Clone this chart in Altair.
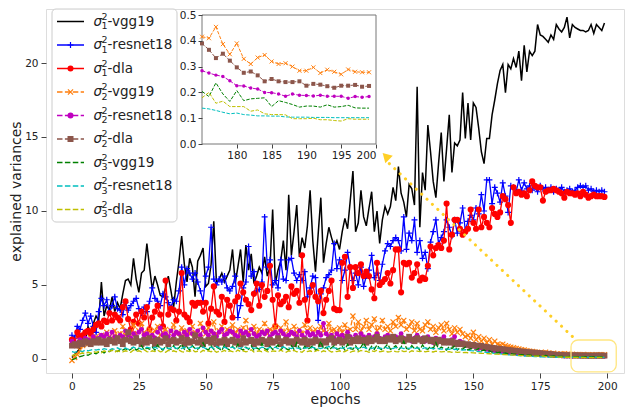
import altair as alt
import pandas as pd

epochs = list(range(200))

s1_vgg19 = [
    0.1, 0.3, 0.5, 0.7, 1.4, 1.2, 2.2, 1.8, 2.4, 2.9,
    2.6, 5.2, 2.9, 3.6, 3.3, 4.2, 3.2, 3.8, 3.4, 4.4,
    5.3, 5.4, 5.0, 6.8, 5.4, 4.5, 5.8, 6.0, 7.8, 6.2,
    4.7, 5.6, 5.0, 4.3, 4.2, 4.8, 5.6, 4.6, 3.5, 5.2,
    6.6, 8.3, 6.4, 5.2, 6.8, 6.2, 4.2, 6.6, 7.0, 7.5,
    4.9, 5.1, 6.4, 9.3, 5.1, 5.4, 5.8, 5.2, 5.6, 6.0,
    7.4, 5.1, 6.2, 7.4, 5.2, 7.7, 6.0, 7.1, 5.1, 5.6,
    6.2, 5.8, 6.9, 5.6, 6.2, 10.1, 5.1, 6.0, 6.6, 8.0,
    6.0, 11.1, 7.0, 8.6, 10.4, 6.9, 8.2, 7.5, 9.0, 11.4,
    8.0, 5.9, 8.4, 10.9, 6.5, 7.8, 8.9, 8.2, 7.6, 8.0,
    7.4, 8.6, 9.5, 8.8, 10.7, 12.7, 8.6, 9.2, 11.4, 9.6,
    9.0, 10.2, 11.3, 8.6, 10.0, 7.8, 9.4, 10.3, 9.8, 10.3,
    11.6, 10.7, 13.0, 11.2, 10.6, 9.6, 11.8, 11.5, 10.4, 18.4,
    8.9, 12.6, 11.4, 15.8, 14.0, 12.0, 10.9, 13.2, 15.3, 12.0,
    14.2, 16.5, 12.6, 14.6, 14.4, 14.8, 18.0, 14.9, 17.3, 14.8,
    17.3, 17.0, 15.6, 14.0, 13.2, 14.9, 14.9, 16.5, 17.5, 18.6,
    19.5, 19.9, 18.0, 19.9, 19.6, 20.3, 19.7, 20.8, 18.8, 21.2,
    19.4, 20.8, 20.5, 20.8, 22.6, 21.9, 21.8, 21.6, 21.4, 21.9,
    21.6, 22.6, 22.3, 22.1, 22.4, 23.1, 21.7, 22.6, 22.4, 22.3,
    22.2, 22.2, 22.1, 22.2, 22.6, 22.0, 22.6, 22.4, 22.2, 22.7,
]

s1_resnet18 = [
    1.6, 1.4, 2.2, 2.0, 2.6, 3.1, 2.4, 2.9, 2.2, 1.8,
    3.2, 4.1, 3.6, 4.0, 3.1, 3.6, 4.2, 3.4, 3.3, 3.0,
    3.8, 3.3, 3.6, 3.9, 4.1, 3.4, 3.1, 3.5, 3.2, 3.9,
    4.8, 4.1, 3.9, 3.6, 4.4, 4.2, 3.8, 3.5, 4.0, 3.9,
    4.6, 6.2, 5.0, 6.1, 5.8, 5.4, 5.8, 5.2, 4.6, 3.9,
    5.6, 6.2, 8.9, 5.4, 5.0, 5.4, 5.2, 5.6, 4.8, 4.6,
    4.9, 5.6, 2.8, 3.6, 4.8, 5.2, 7.6, 5.6, 5.9, 4.6,
    4.7, 5.2, 9.6, 6.2, 6.7, 5.0, 5.3, 4.8, 6.7, 5.4,
    5.3, 6.7, 6.8, 5.8, 5.3, 5.7, 5.3, 5.9, 4.2, 4.8,
    5.6, 5.5, 2.6, 4.4, 4.8, 5.5, 5.7, 6.0, 7.8, 6.1,
    6.7, 5.3, 6.0, 7.2, 6.2, 5.3, 5.8, 5.0, 6.2, 4.9,
    5.6, 6.0, 7.0, 5.5, 5.8, 5.3, 6.4, 7.3, 7.8, 7.6,
    8.0, 8.2, 8.0, 7.3, 9.6, 7.4, 8.5, 8.0, 9.4, 7.2,
    8.0, 6.8, 7.2, 6.1, 7.9, 8.6, 9.4, 7.8, 8.2, 8.6,
    9.4, 8.9, 8.3, 9.4, 8.5, 9.2, 10.2, 8.7, 9.3, 9.7,
    9.4, 10.2, 9.8, 11.1, 10.0, 12.1, 12.1, 10.5, 11.6, 11.2,
    10.6, 11.9, 11.0, 9.9, 11.7, 11.6, 11.3, 12.1, 11.4, 11.9,
    11.5, 11.7, 11.4, 11.6, 11.3, 11.7, 11.5, 11.6, 11.4, 11.6,
    11.3, 11.5, 11.4, 11.6, 11.3, 11.4, 11.5, 11.3, 11.4, 11.6,
    11.7, 11.6, 11.7, 11.4, 11.5, 11.3, 11.4, 11.3, 11.4, 11.3,
]

s1_dla = [
    1.3, 1.0, 1.8, 1.5, 1.6, 1.8, 1.9, 1.7, 2.0, 2.3,
    2.4, 2.2, 2.6, 2.5, 3.1, 2.6, 3.0, 2.8, 2.6, 3.5,
    3.9, 2.7, 2.0, 2.5, 3.0, 2.4, 3.2, 2.8, 3.5, 2.0,
    2.8, 3.2, 3.6, 3.0, 2.2, 5.3, 3.0, 3.4, 3.3, 2.6,
    3.2, 5.8, 3.0, 2.8, 2.5, 3.8, 3.6, 3.8, 3.8, 3.2,
    3.8, 2.4, 3.4, 4.9, 3.2, 3.0, 4.2, 2.5, 4.0, 3.6,
    2.8, 3.9, 4.2, 5.1, 4.5, 4.0, 3.7, 3.3, 4.4, 5.1,
    3.6, 5.0, 4.2, 4.6, 6.3, 4.0, 2.2, 4.3, 3.7, 3.9,
    4.2, 3.5, 4.9, 4.4, 4.6, 3.8, 7.0, 4.0, 2.6, 4.5,
    5.0, 4.2, 3.9, 4.6, 3.1, 4.0, 4.6, 5.3, 3.4, 3.3,
    3.3, 6.5, 6.9, 4.2, 6.2, 4.8, 6.2, 5.8, 6.4, 5.6,
    5.9, 5.6, 4.7, 4.1, 6.5, 5.0, 5.2, 5.4, 5.8, 5.1,
    6.0, 7.4, 7.4, 4.5, 6.5, 6.4, 6.5, 5.5, 5.8, 6.4,
    5.3, 5.5, 5.4, 6.3, 7.6, 7.0, 7.5, 7.7, 7.5, 8.0,
    10.5, 7.4, 8.4, 9.4, 9.4, 8.8, 8.4, 8.6, 8.8, 10.1,
    9.2, 8.8, 10.1, 8.9, 9.6, 9.2, 8.9, 10.2, 9.8, 9.6,
    9.9, 11.0, 10.8, 10.4, 9.2, 11.6, 11.2, 11.3, 11.1, 11.2,
    11.0, 11.4, 12.0, 11.7, 11.6, 11.6, 10.7, 11.3, 11.4, 11.4,
    11.5, 11.4, 11.3, 11.2, 10.9, 11.3, 11.2, 11.2, 11.1, 11.2,
    11.0, 11.3, 11.1, 10.9, 11.0, 11.1, 11.0, 11.0, 11.0, 10.95,
]

s2_vgg19 = [
    -0.1, 0.1, 0.3, 0.6, 0.9, 1.1, 1.0, 1.4, 1.2, 1.5,
    1.3, 1.6, 1.4, 1.8, 1.5, 1.3, 1.9, 1.5, 1.7, 2.2,
    1.6, 1.8, 1.5, 2.3, 1.7, 1.9, 2.4, 1.8, 1.6, 2.0,
    1.7, 1.9, 2.2, 1.6, 1.8, 2.0, 1.5, 1.9, 2.3, 1.7,
    1.8, 2.1, 1.6, 1.9, 1.7, 2.2, 1.8, 1.6, 2.4, 1.9,
    1.7, 2.1, 1.8, 2.5, 1.7, 1.9, 2.2, 1.6, 2.0, 1.8,
    2.3, 1.7, 2.0, 1.6, 2.1, 2.6, 1.8, 1.9, 2.2, 1.7,
    2.0, 1.8, 2.4, 1.7, 2.0, 1.9, 2.2, 1.6, 2.1, 1.8,
    2.5, 1.9, 1.7, 2.2, 1.8, 2.0, 1.7, 2.3, 1.9, 2.1,
    1.8, 2.0, 1.7, 2.2, 1.9, 1.8, 2.4, 1.9, 2.0, 1.7,
    2.1, 1.8, 2.3, 1.9, 2.0, 2.9, 2.0, 2.5, 1.9, 2.2,
    2.6, 2.0, 2.3, 2.7, 1.9, 2.1, 2.6, 2.0, 2.2, 1.9,
    2.5, 2.2, 2.8, 2.3, 2.6, 2.0, 2.2, 2.5, 1.9, 2.4,
    2.0, 1.9, 2.3, 2.5, 2.0, 2.2, 1.8, 2.1, 2.3, 1.9,
    2.4, 2.0, 1.7, 2.1, 1.8, 2.0, 1.7, 1.5, 1.6, 1.4,
    1.8, 1.3, 1.5, 1.2, 1.4, 1.1, 1.3, 1.0, 1.2, 1.0,
    0.95, 1.0, 0.9, 0.85, 0.8, 0.75, 0.7, 0.68, 0.62, 0.6,
    0.56, 0.52, 0.5, 0.47, 0.45, 0.416, 0.41, 0.454, 0.387, 0.348,
    0.39, 0.33, 0.31, 0.335, 0.345, 0.32, 0.31, 0.313, 0.30, 0.284,
    0.284, 0.297, 0.275, 0.288, 0.28, 0.27, 0.289, 0.28, 0.278, 0.278,
]

s2_resnet18 = [
    1.2, 1.0, 1.1, 1.3, 1.2, 1.4, 1.3, 1.2, 1.5, 1.3,
    1.4, 1.6, 1.5, 1.7, 1.4, 1.8, 1.5, 1.4, 1.6, 1.5,
    1.9, 1.6, 1.4, 1.7, 1.5, 1.8, 2.0, 1.6, 1.7, 1.5,
    1.6, 1.4, 1.8, 2.1, 1.6, 1.7, 1.5, 1.9, 1.6, 1.8,
    1.7, 1.5, 1.8, 1.6, 2.0, 1.7, 1.5, 1.9, 1.6, 2.1,
    1.8, 1.6, 1.9, 1.7, 1.5, 1.8, 2.0, 1.6, 1.7, 1.9,
    1.8, 1.6, 1.5, 1.9, 1.7, 1.8, 1.6, 2.0, 1.7, 1.5,
    1.6, 1.8, 1.7, 1.9, 1.5, 1.7, 1.8, 1.6, 1.9, 1.7,
    1.5, 1.6, 1.8, 1.7, 1.5, 1.9, 1.6, 1.4, 1.8, 1.6,
    1.7, 1.5, 1.8, 1.6, 2.4, 1.7, 1.5, 1.6, 1.4, 1.7,
    1.5, 1.6, 1.4, 1.8, 1.5, 1.3, 1.6, 1.4, 1.7, 1.5,
    1.4, 1.6, 1.3, 1.5, 1.7, 1.4, 1.3, 1.5, 1.6, 1.4,
    1.3, 1.5, 1.4, 1.7, 1.4, 1.3, 1.5, 1.2, 1.4, 1.6,
    1.3, 1.4, 1.2, 1.5, 1.3, 1.1, 1.4, 1.2, 1.3, 1.5,
    1.2, 1.1, 1.3, 1.5, 1.0, 1.2, 1.1, 0.9, 1.0, 0.8,
    0.9, 0.8, 0.7, 0.75, 0.7, 0.65, 0.6, 0.62, 0.55, 0.52,
    0.5, 0.48, 0.46, 0.44, 0.42, 0.4, 0.38, 0.37, 0.35, 0.34,
    0.33, 0.32, 0.31, 0.3, 0.29, 0.284, 0.275, 0.267, 0.262, 0.245,
    0.226, 0.225, 0.217, 0.213, 0.2, 0.199, 0.194, 0.185, 0.194, 0.189,
    0.188, 0.186, 0.189, 0.185, 0.185, 0.185, 0.177, 0.184, 0.181, 0.184,
]

s2_dla = [
    0.9, 1.0, 0.9, 1.1, 1.0, 1.2, 1.1, 1.0, 1.2, 1.1,
    1.3, 1.1, 1.2, 1.0, 1.3, 1.2, 1.1, 1.4, 1.2, 1.0,
    1.3, 1.8, 1.2, 1.1, 1.4, 1.2, 1.0, 1.3, 1.1, 1.4,
    1.2, 1.0, 1.3, 1.1, 1.2, 1.4, 1.0, 1.2, 1.3, 1.1,
    1.2, 1.4, 1.0, 1.3, 1.1, 1.2, 1.6, 1.1, 1.3, 1.0,
    1.2, 1.3, 1.1, 1.4, 1.0, 1.2, 1.1, 1.3, 1.0, 1.2,
    1.3, 1.1, 1.2, 1.0, 1.4, 1.1, 1.2, 1.3, 1.0, 1.2,
    1.1, 1.3, 1.2, 1.0, 1.3, 1.1, 1.2, 1.4, 1.0, 1.2,
    1.3, 1.1, 1.2, 1.0, 1.3, 1.2, 1.1, 1.3, 1.0, 1.2,
    1.1, 1.3, 1.2, 1.0, 1.2, 1.1, 1.3, 1.4, 1.1, 1.2,
    1.3, 1.1, 1.2, 1.5, 1.1, 1.3, 1.2, 1.4, 1.2, 1.3,
    1.1, 1.4, 1.2, 1.3, 1.5, 1.2, 1.3, 1.2, 1.4, 1.3,
    1.5, 1.2, 1.3, 1.4, 1.2, 1.3, 1.5, 1.3, 1.2, 1.4,
    1.3, 1.2, 1.4, 1.3, 1.2, 1.3, 1.1, 1.3, 1.2, 1.1,
    1.2, 1.1, 1.2, 1.0, 1.1, 1.0, 1.05, 0.95, 1.0, 0.9,
    0.95, 0.9, 0.85, 0.88, 0.82, 0.8, 0.78, 0.75, 0.72, 0.7,
    0.68, 0.66, 0.63, 0.6, 0.58, 0.56, 0.54, 0.52, 0.5, 0.48,
    0.46, 0.45, 0.43, 0.42, 0.41, 0.39, 0.365, 0.333, 0.35, 0.323,
    0.297, 0.276, 0.281, 0.266, 0.243, 0.252, 0.243, 0.24, 0.24, 0.243,
    0.226, 0.233, 0.23, 0.224, 0.218, 0.226, 0.226, 0.229, 0.222, 0.225,
]

s3_vgg19 = [
    -0.05, 0.0, 0.1, 0.15, 0.2, 0.3, 0.25, 0.35, 0.4, 0.35,
    0.45, 0.5, 0.4, 0.55, 0.5, 0.6, 0.55, 0.5, 0.65, 0.6,
    0.7, 0.55, 0.65, 0.8, 0.6, 0.7, 0.9, 0.6, 0.75, 0.65,
    0.8, 0.6, 0.95, 0.7, 0.6, 0.85, 0.7, 0.65, 0.9, 0.6,
    0.75, 1.0, 0.65, 0.8, 0.6, 0.9, 0.7, 0.65, 0.85, 1.1,
    0.7, 0.6, 0.9, 0.65, 0.8, 0.7, 0.55, 0.95, 0.7, 0.6,
    0.85, 0.65, 1.0, 0.7, 0.6, 0.8, 0.65, 0.9, 0.6, 0.75,
    0.65, 1.05, 0.7, 0.6, 0.85, 0.65, 0.75, 0.95, 0.6, 0.8,
    0.7, 0.6, 0.9, 0.65, 1.1, 0.7, 0.6, 0.85, 0.65, 0.75,
    0.9, 0.6, 0.7, 1.2, 0.65, 0.8, 0.6, 0.75, 0.9, 0.65,
    0.7, 0.85, 0.6, 1.0, 0.7, 0.65, 0.9, 0.6, 0.8, 1.1,
    0.7, 0.6, 0.85, 0.65, 0.95, 0.7, 0.6, 0.8, 1.0, 0.65,
    0.75, 0.9, 0.6, 0.8, 1.2, 0.7, 0.65, 0.9, 0.7, 0.8,
    0.6, 0.95, 0.7, 0.65, 0.85, 0.7, 1.1, 0.65, 0.8, 0.7,
    0.6, 0.85, 0.7, 0.9, 0.6, 0.75, 0.65, 0.8, 0.6, 0.7,
    0.65, 0.6, 0.7, 0.55, 0.6, 0.5, 0.55, 0.45, 0.5, 0.42,
    0.45, 0.38, 0.4, 0.35, 0.36, 0.32, 0.33, 0.3, 0.29, 0.27,
    0.26, 0.25, 0.24, 0.22, 0.21, 0.204, 0.184, 0.237, 0.194, 0.165,
    0.207, 0.168, 0.175, 0.177, 0.179, 0.145, 0.168, 0.161, 0.153, 0.143,
    0.147, 0.147, 0.143, 0.152, 0.143, 0.145, 0.15, 0.14, 0.139, 0.139,
]

s3_resnet18 = [
    0.5, 0.45, 0.5, 0.55, 0.5, 0.6, 0.55, 0.6, 0.65, 0.6,
    0.65, 0.6, 0.7, 0.65, 0.6, 0.7, 0.65, 0.75, 0.65, 0.7,
    0.75, 0.65, 0.7, 0.8, 0.7, 0.75, 0.65, 0.7, 0.8, 0.75,
    0.7, 0.8, 0.7, 0.75, 0.65, 0.8, 0.7, 0.75, 0.85, 0.7,
    0.75, 0.7, 0.8, 0.7, 0.75, 0.85, 0.7, 0.75, 0.7, 0.8,
    0.7, 0.75, 0.8, 0.7, 0.85, 0.75, 0.7, 0.8, 0.7, 0.75,
    0.8, 0.7, 0.75, 0.7, 0.85, 0.75, 0.7, 0.8, 0.72, 0.75,
    0.7, 0.8, 0.75, 0.7, 0.78, 0.72, 0.8, 0.7, 0.75, 0.82,
    0.72, 0.75, 0.7, 0.8, 0.74, 0.7, 0.78, 0.72, 0.76, 0.7,
    0.8, 0.72, 0.75, 0.7, 0.78, 0.73, 0.85, 0.72, 0.76, 0.7,
    0.75, 0.72, 0.8, 0.7, 0.76, 0.72, 0.78, 0.7, 0.74, 0.8,
    0.72, 0.76, 0.7, 0.78, 0.72, 0.75, 0.7, 0.8, 0.72, 0.75,
    0.7, 0.78, 0.72, 0.76, 0.7, 0.74, 0.72, 0.78, 0.7, 0.75,
    0.72, 0.7, 0.76, 0.7, 0.73, 0.68, 0.72, 0.7, 0.66, 0.7,
    0.68, 0.65, 0.7, 0.64, 0.66, 0.62, 0.6, 0.62, 0.58, 0.56,
    0.55, 0.52, 0.5, 0.48, 0.46, 0.44, 0.42, 0.4, 0.38, 0.36,
    0.34, 0.32, 0.3, 0.28, 0.27, 0.25, 0.24, 0.22, 0.21, 0.2,
    0.19, 0.18, 0.17, 0.16, 0.15, 0.139, 0.136, 0.13, 0.123, 0.117,
    0.12, 0.114, 0.112, 0.109, 0.109, 0.108, 0.108, 0.105, 0.104, 0.104,
    0.104, 0.103, 0.103, 0.103, 0.102, 0.102, 0.102, 0.102, 0.102, 0.102,
]

s3_dla = [
    0.2, 0.3, 0.25, 0.35, 0.4, 0.35, 0.45, 0.4, 0.5, 0.45,
    0.5, 0.42, 0.55, 0.48, 0.5, 0.6, 0.45, 0.55, 0.5, 0.48,
    0.55, 0.5, 0.45, 0.6, 0.5, 0.55, 0.48, 0.62, 0.5, 0.45,
    0.55, 0.5, 0.6, 0.48, 0.52, 0.45, 0.58, 0.5, 0.55, 0.48,
    0.6, 0.5, 0.45, 0.55, 0.5, 0.62, 0.48, 0.52, 0.45, 0.58,
    0.5, 0.55, 0.48, 0.6, 0.45, 0.52, 0.5, 0.58, 0.47, 0.55,
    0.5, 0.45, 0.6, 0.5, 0.55, 0.48, 0.52, 0.62, 0.47, 0.5,
    0.55, 0.48, 0.6, 0.5, 0.45, 0.55, 0.52, 0.48, 0.6, 0.5,
    0.45, 0.55, 0.5, 0.58, 0.48, 0.52, 0.45, 0.6, 0.5, 0.55,
    0.48, 0.52, 0.6, 0.45, 0.55, 0.5, 0.58, 0.47, 0.52, 0.5,
    0.55, 0.48, 0.5, 0.6, 0.45, 0.52, 0.55, 0.48, 0.58, 0.5,
    0.52, 0.45, 0.55, 0.5, 0.6, 0.48, 0.52, 0.55, 0.47, 0.5,
    0.55, 0.5, 0.48, 0.58, 0.5, 0.52, 0.45, 0.55, 0.5, 0.53,
    0.5, 0.55, 0.48, 0.52, 0.5, 0.47, 0.53, 0.5, 0.48, 0.5,
    0.47, 0.5, 0.45, 0.48, 0.44, 0.46, 0.43, 0.45, 0.42, 0.43,
    0.41, 0.4, 0.39, 0.38, 0.37, 0.36, 0.35, 0.34, 0.33, 0.32,
    0.31, 0.3, 0.29, 0.28, 0.27, 0.26, 0.25, 0.24, 0.23, 0.22,
    0.21, 0.2, 0.2, 0.19, 0.19, 0.179, 0.2, 0.158, 0.166, 0.145,
    0.145, 0.145, 0.127, 0.132, 0.117, 0.114, 0.114, 0.113, 0.098, 0.098,
    0.098, 0.1, 0.094, 0.094, 0.091, 0.089, 0.098, 0.096, 0.096, 0.096,
]

series_keys = ["s1_vgg19", "s1_resnet18", "s1_dla", "s2_vgg19", "s2_resnet18",
               "s2_dla", "s3_vgg19", "s3_resnet18", "s3_dla"]
series_vals = [s1_vgg19, s1_resnet18, s1_dla, s2_vgg19, s2_resnet18,
               s2_dla, s3_vgg19, s3_resnet18, s3_dla]
series_subnum = ["1", "1", "1", "2", "2", "2", "3", "3", "3"]
series_net = ["-vgg19", "-resnet18", "-dla"] * 3
series_colors = ["#000000", "#0000ff", "#ff0000", "#ff7f0e", "#bf00bf",
                 "#8c564b", "#008000", "#00bfbf", "#bfbf00"]
series_dashed = [False, False, False, True, True, True, True, True, True]
series_marker = [None, "plus", "circle", "x", "circle", "square", None, None, None]

PLUS = "M-1,0L1,0M0,-1L0,1"
XMARK = "M-1,-1L1,1M-1,1L1,-1"
shape_of = {"plus": PLUS, "x": XMARK, "circle": "circle", "square": "square"}
filled_of = {"plus": False, "x": False, "circle": True, "square": True}
size_main = {"plus": 36, "x": 26, "circle": 34, "square": 34}
size_main_by_series = {2: 38, 4: 24}
size_legend = {"plus": 36, "x": 26, "circle": 36, "square": 36}
size_inset = {"x": 16, "circle": 12, "square": 16}

rows = []
for k, vals in zip(series_keys, series_vals):
    assert len(vals) == 200, (k, len(vals))
    for e, v in zip(epochs, vals):
        rows.append({"series": k, "epoch": e, "value": v})
df = pd.DataFrame(rows)

W, H = 578, 364
FONT = "DejaVu Sans"
DASH = [5.5, 2.4]
GOLD = "#ffcf26"

x_main = alt.X("epoch:Q",
               scale=alt.Scale(domain=[-9.7, 206.3], nice=False, zero=False),
               axis=alt.Axis(values=[0, 25, 50, 75, 100, 125, 150, 175, 200],
                             title="epochs", grid=False, domain=False,
                             labelFontSize=10.5, titleFontSize=14, tickSize=5,
                             labelPadding=3, titlePadding=1, labelFont=FONT,
                             titleFont=FONT, titleFontWeight="normal",
                             labelColor="#222", titleColor="#222", tickColor="#444"))
y_main = alt.Y("value:Q",
               scale=alt.Scale(domain=[-0.95, 23.65], nice=False, zero=False),
               axis=alt.Axis(values=[0, 5, 10, 15, 20], title="explained variances",
                             grid=False, domain=False,
                             labelFontSize=10.5, titleFontSize=14, tickSize=5,
                             labelPadding=3, titlePadding=1, labelFont=FONT,
                             titleFont=FONT, titleFontWeight="normal",
                             labelColor="#222", titleColor="#222", tickColor="#444"))

main_layers = []
for i, k in enumerate(series_keys):
    base = alt.Chart(df).transform_filter(alt.datum.series == k)
    lkw = dict(color=series_colors[i], strokeWidth=1.5 if i == 0 else 1.3)
    if series_dashed[i]:
        lkw["strokeDash"] = DASH
    main_layers.append(base.mark_line(**lkw).encode(x=x_main, y=y_main))
    m = series_marker[i]
    if m:
        sz = size_main_by_series.get(i, size_main[m])
        main_layers.append(
            base.mark_point(shape=shape_of[m], filled=filled_of[m], size=sz,
                            color=series_colors[i], opacity=1, strokeWidth=1.2)
            .encode(x=x_main, y=y_main))

# annotation: dotted arrow to the zoom box and the rounded box itself
arrow_epoch = [188.4, 118.6]
arrow_value = [1.28, 13.2]
arrow_df = pd.DataFrame({"epoch": arrow_epoch, "value": arrow_value})
head_df = pd.DataFrame({"epoch": [117.3], "value": [13.7]})
box_df = pd.DataFrame({"epoch": [186.5], "epoch2": [203.4], "value": [1.28], "value2": [-0.88]})

main_layers.append(alt.Chart(arrow_df).mark_line(color=GOLD, strokeWidth=3, strokeCap="round",
                                                  strokeDash=[0.1, 7.3])
                   .encode(x=x_main, y=y_main))
main_layers.append(alt.Chart(head_df).mark_point(shape="triangle-up", filled=True, size=110,
                                                 angle=315, color=GOLD, opacity=1)
                   .encode(x=x_main, y=y_main))
main_layers.append(alt.Chart(box_df).mark_rect(fillOpacity=0, stroke="#ffe680", strokeWidth=1.3,
                                               cornerRadius=7)
                   .encode(x=x_main, x2="epoch2:Q", y=y_main, y2="value2:Q"))

main = alt.layer(*main_layers)

# inset
IN_TOP, IN_BOT = 6, 135
x_in = alt.X("epoch:Q",
             scale=alt.Scale(domain=[175, 200], range=[156, 330], nice=False, zero=False),
             axis=alt.Axis(orient="bottom", offset=IN_BOT - H, values=[180, 185, 190, 195, 200],
                           title=None, grid=False, domain=False, labelFontSize=10.5,
                           tickSize=4, labelPadding=2, labelFont=FONT, labelColor="#222",
                           tickColor="#444", zindex=1))
y_in = alt.Y("value:Q",
             scale=alt.Scale(domain=[0, 0.5], range=[IN_BOT, IN_TOP], nice=False, zero=False),
             axis=alt.Axis(orient="left", offset=-156, values=[0, 0.1, 0.2, 0.3, 0.4, 0.5],
                           format=".1f", title=None, grid=False, domain=False,
                           labelFontSize=10.5, tickSize=4, labelPadding=2, labelFont=FONT,
                           labelColor="#222", tickColor="#444", zindex=1))

frame_df = pd.DataFrame({"epoch": [175], "epoch2": [200], "value": [0.0], "value2": [0.5]})
inset_layers = [alt.Chart(frame_df).mark_rect(fill="white", stroke="#777", strokeWidth=1)
                .encode(x=x_in, x2="epoch2:Q", y=y_in, y2="value2:Q")]
for i in range(3, 9):
    k = series_keys[i]
    base = alt.Chart(df).transform_filter((alt.datum.series == k) & (alt.datum.epoch >= 175))
    inset_layers.append(base.mark_line(color=series_colors[i], strokeWidth=1,
                                       strokeDash=[3.5, 1.5]).encode(x=x_in, y=y_in))
    m = series_marker[i]
    if m:
        inset_layers.append(
            base.mark_point(shape=shape_of[m], filled=filled_of[m], size=size_inset[m],
                            color=series_colors[i], opacity=1, strokeWidth=1)
            .encode(x=x_in, y=y_in))
inset = alt.layer(*inset_layers)

# legend (drawn like matplotlib's)
one = pd.DataFrame({"a": [0]})
leg_layers = [alt.Chart(one).mark_rect(fill="white", fillOpacity=0.85, stroke="#cccccc",
                                       strokeWidth=1, cornerRadius=4)
              .encode(x=alt.value(6), x2=alt.value(131), y=alt.value(0), y2=alt.value(213))]
for i in range(9):
    cy = 12.5 + 23.5 * i
    rkw = dict(color=series_colors[i], strokeWidth=1.5)
    if series_dashed[i]:
        rkw["strokeDash"] = DASH
    leg_layers.append(alt.Chart(one).mark_rule(**rkw)
                      .encode(x=alt.value(11), x2=alt.value(38), y=alt.value(cy)))
    m = series_marker[i]
    if m:
        leg_layers.append(alt.Chart(one).mark_point(shape=shape_of[m], filled=filled_of[m],
                                                    size=size_legend[m], color=series_colors[i],
                                                    opacity=1, strokeWidth=1.2)
                          .encode(x=alt.value(24.5), y=alt.value(cy)))
    tkw = dict(font=FONT, align="left", baseline="middle", color="#222")
    leg_layers.append(alt.Chart(one).mark_text(text="\u03c3", fontSize=13.5, fontStyle="italic", **tkw)
                      .encode(x=alt.value(47.5), y=alt.value(cy)))
    leg_layers.append(alt.Chart(one).mark_text(text="2", fontSize=9.5, **tkw)
                      .encode(x=alt.value(55.5), y=alt.value(cy - 5)))
    leg_layers.append(alt.Chart(one).mark_text(text=series_subnum[i], fontSize=9.5, **tkw)
                      .encode(x=alt.value(55.5), y=alt.value(cy + 4.5)))
    leg_layers.append(alt.Chart(one).mark_text(text=series_net[i], fontSize=13.5, **tkw)
                      .encode(x=alt.value(61.5), y=alt.value(cy)))
legend = alt.layer(*leg_layers)

chart = (alt.layer(main, inset, legend)
         .resolve_scale(x="independent", y="independent")
         .properties(width=W, height=H,
                     padding={"left": 38, "top": 1, "right": 2, "bottom": 40},
                     autosize=alt.AutoSizeParams(type="none"))
         .configure_view(stroke="#777", strokeWidth=1)
         .configure(background="white"))

chart.save("out.html", embed_options={"renderer": "svg", "actions": False})
